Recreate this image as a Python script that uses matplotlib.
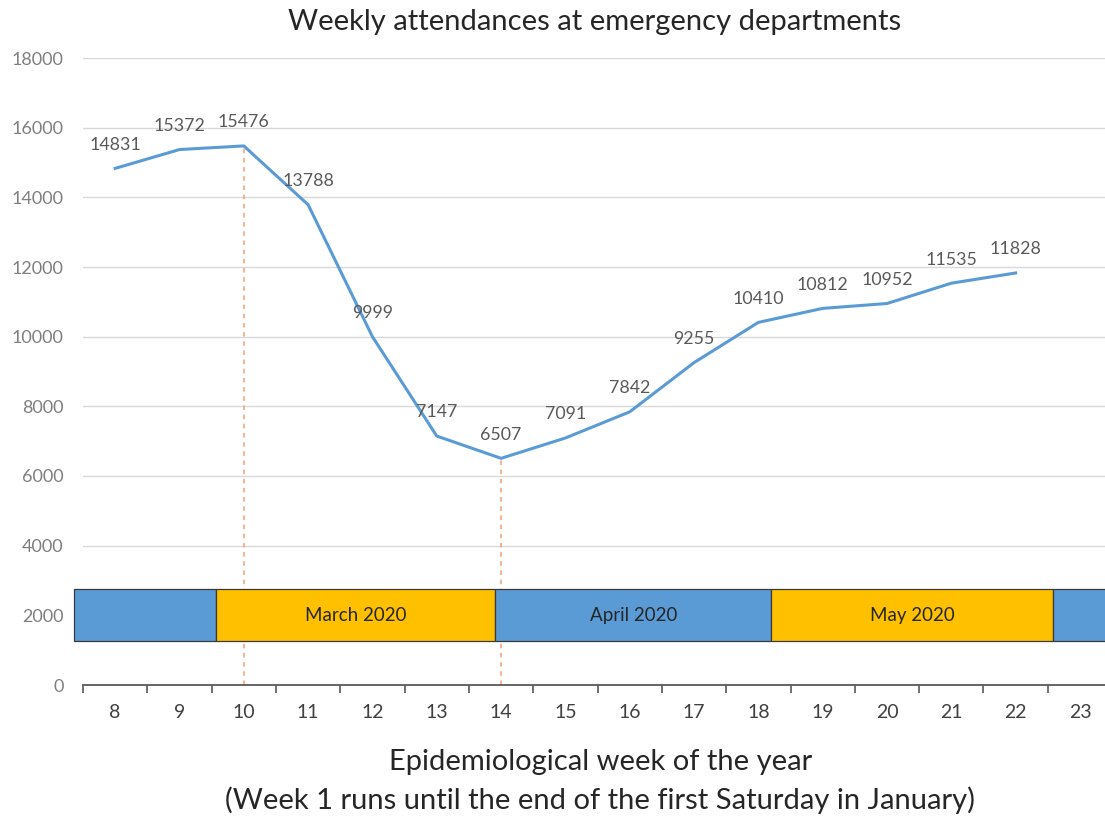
import matplotlib.pyplot as plt
from matplotlib.ticker import MultipleLocator, FixedLocator

plt.rcParams['font.family'] = ['Lato', 'DejaVu Sans']

# data
weeks = [8, 9, 10, 11, 12, 13, 14, 15, 16, 17, 18, 19, 20, 21, 22, 23]
attendances = [14831, 15372, 15476, 13788, 9999, 7147, 6507, 7091, 7842,
               9255, 10410, 10812, 10952, 11535, 11828]
marked_weeks = [10, 14]

# month band (start/end in week units, label, colour)
month_edges = [7.36, 9.57, 13.91, 18.2, 22.58, 23.5]
month_labels = ['', 'March 2020', 'April 2020', 'May 2020', '']
month_colors = ['#5B9BD5', '#FFC000', '#5B9BD5', '#FFC000', '#5B9BD5']
band_low, band_high = 1263, 2756

W, H = 1105, 819
fig = plt.figure(figsize=(W / 100, H / 100), dpi=100)
ax = fig.add_axes([83 / W, 134 / H, (W - 83) / W, 627 / H])

x = list(range(len(weeks)))
xv = x[:len(attendances)]

ax.plot(xv, attendances, color='#5B9BD5', lw=2.2, zorder=4)
for xi, v in zip(xv, attendances):
    ax.annotate(str(v), (xi, v), xytext=(0, 17), textcoords='offset points',
                ha='center', va='center', fontsize=12.8, color='#595959', zorder=5)

for wk in marked_weeks:
    i = weeks.index(wk)
    ax.vlines(i, 0, attendances[i], color='#F4A070', lw=1.1,
              linestyles=(0, (3, 3)), zorder=2)

# month band
for i, lab in enumerate(month_labels):
    s = month_edges[i] - weeks[0]
    e = month_edges[i + 1] - weeks[0]
    ax.bar(s, band_high - band_low, width=e - s, bottom=band_low, align='edge',
           color=month_colors[i], edgecolor='#3A3A3A', lw=0.9, zorder=3,
           clip_on=False)
    if lab:
        ax.text((s + e) / 2, (band_low + band_high) / 2, lab, ha='center',
                va='center', fontsize=13.5, color='#262626', zorder=4)

ax.set_xlim(-0.5, (W - 115) / 64.33)
ax.set_ylim(0, 18000)
ax.yaxis.set_major_locator(MultipleLocator(2000))
ax.grid(axis='y', color='#D9D9D9', lw=1, zorder=0)
ax.set_axisbelow(True)

ax.set_xticks(x)
ax.set_xticklabels([str(w) for w in weeks])
ax.xaxis.set_minor_locator(FixedLocator([i - 0.5 for i in range(len(weeks) + 1)]))
ax.tick_params(axis='x', which='major', length=0, pad=14, labelsize=14,
               labelcolor='#404040')
ax.tick_params(axis='x', which='minor', length=6, width=1.2, color='#595959')
ax.tick_params(axis='y', length=0, pad=14, labelsize=13, labelcolor='#7F7F7F')

for sp in ['top', 'right', 'left']:
    ax.spines[sp].set_visible(False)
ax.spines['bottom'].set_color('#595959')
ax.spines['bottom'].set_linewidth(1.3)

fig.text(595 / W, 1 - 22 / H, 'Weekly attendances at emergency departments',
         ha='center', va='center', fontsize=21, color='#262626')
fig.text(601 / W, 1 - 762 / H, 'Epidemiological week of the year',
         ha='center', va='center', fontsize=21, color='#262626')
fig.text(600 / W, 1 - 800 / H,
         '(Week 1 runs until the end of the first Saturday in January)',
         ha='center', va='center', fontsize=21, color='#262626')

fig.savefig('out.png', dpi=100)
